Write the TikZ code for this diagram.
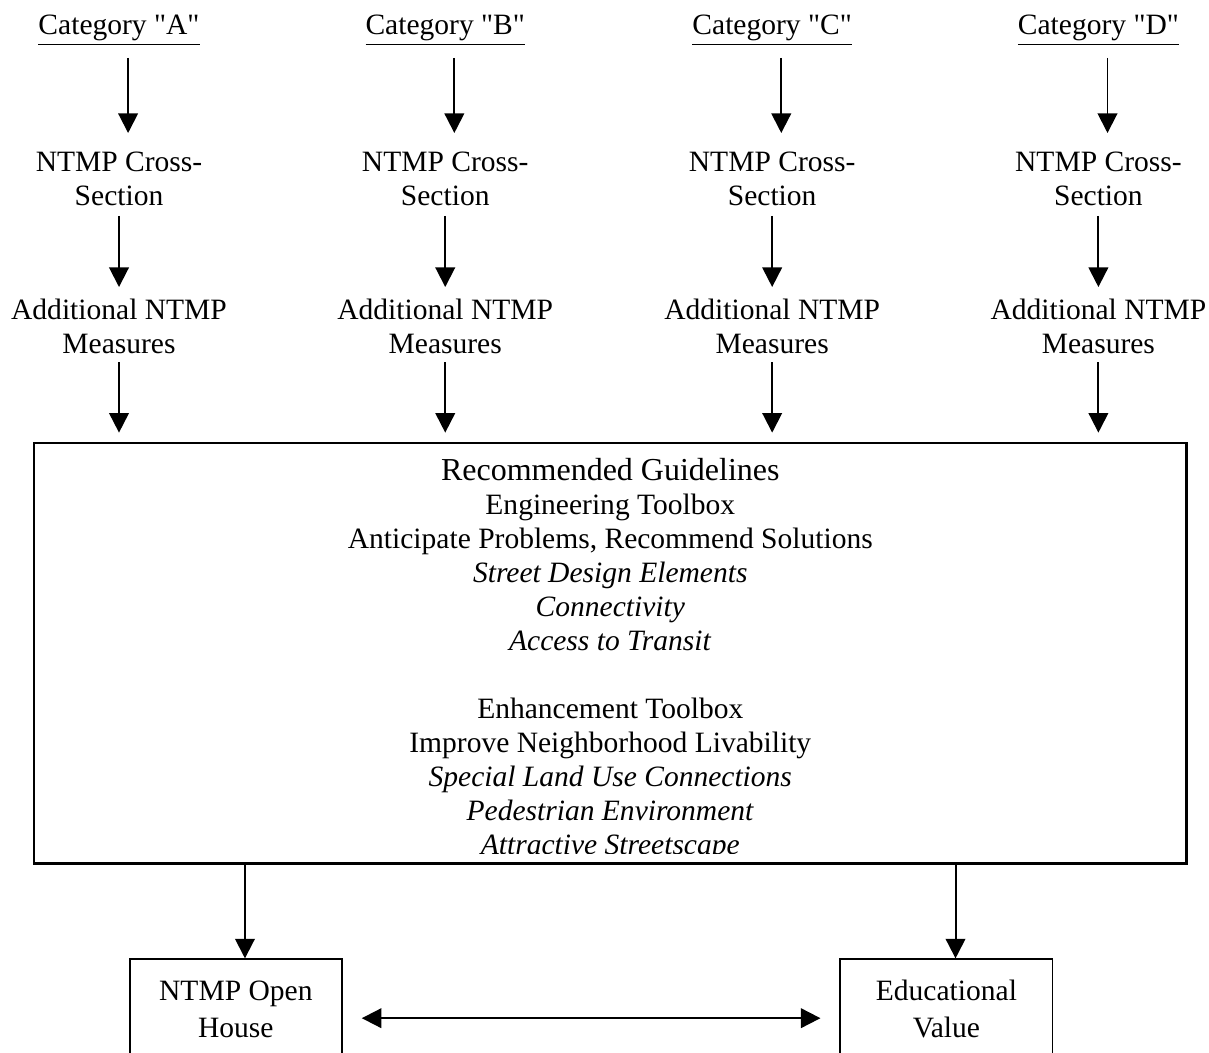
\documentclass[tikz,border=0pt]{standalone}
\usepackage{fontspec}
\setmainfont{Liberation Serif}[Ligatures=TeXOff]
\usetikzlibrary{arrows.meta}

\tikzset{
  fleche/.style={-{Triangle[width=0.28cm,length=0.28cm]}, line width=0.8pt},
  fleches/.style={{Triangle[width=0.28cm,length=0.28cm]}-{Triangle[width=0.28cm,length=0.28cm]}, line width=0.8pt},
  texte/.style={align=center, inner sep=0pt, font=\fontsize{12}{13.8}\selectfont},
  cadre/.style={draw, line width=1pt, inner sep=0pt},
  boite/.style={draw, line width=0.8pt, align=center, font=\fontsize{12}{15}\selectfont,
    minimum width=3.03cm, minimum height=1.42cm, anchor=north west},
}

\begin{document}
\begin{tikzpicture}
\useasboundingbox (0,0) rectangle (17.27,-15.04);

% Les quatre colonnes
\foreach \x/\c in {1.70/A, 6.36/B, 11.03/C, 15.69/D} {
  \node[texte, anchor=base] (cat\c) at (\x,-0.49) {\underline{Category "\c"}};
  \node[texte, anchor=north] (cross\c) at (\x,-2.17) {NTMP Cross-\\Section};
  \node[texte, anchor=north] (add\c) at (\x,-4.27) {Additional NTMP\\Measures};
}

% Cadre des recommandations
\node[cadre, anchor=north west, minimum width=16.46cm, minimum height=6.01cm] (guide) at (0.47,-6.31) {};
\begin{scope}
\clip (guide.north west) rectangle ([yshift=0.17cm]guide.south east);
\node[texte, anchor=north] (guidetext) at ([yshift=-0.23cm]guide.north) {
  {\fontsize{13}{15}\selectfont Recommended Guidelines}\\
  Engineering Toolbox\\
  Anticipate Problems, Recommend Solutions\\
  \textit{Street Design Elements}\\
  \textit{Connectivity}\\
  \textit{Access to Transit}\\[13.8pt]
  Enhancement Toolbox\\
  Improve Neighborhood Livability\\
  \textit{Special Land Use Connections}\\
  \textit{Pedestrian Environment}\\
  \textit{Attractive Streetscape}
};
\end{scope}

% Boites du bas
\node[boite] (house) at (1.84,-13.69) {NTMP Open\\House};
\node[boite] (edu) at (11.99,-13.69) {Educational\\Value};

% Fleches
\foreach \c in {A,B,C,D} {
  \draw[fleche, shorten <=0.17cm, shorten >=0.27cm] ([xshift=0.13cm]cat\c.south) -- ([xshift=0.13cm]cross\c.north);
  \draw[fleche, shorten <=0.13cm, shorten >=0.17cm] (cross\c.south) -- (add\c.north);
  \draw[fleche, shorten <=0.11cm, shorten >=0.13cm] (add\c.south) -- (add\c.south |- guide.north);
}
\draw[fleche] ([xshift=0.13cm]house.north |- guide.south) -- ([xshift=0.13cm]house.north);
\draw[fleche] ([xshift=0.13cm]edu.north |- guide.south) -- ([xshift=0.13cm]edu.north);
\draw[fleches, shorten <=0.27cm, shorten >=0.27cm] ([yshift=-0.13cm]house.east) -- ([yshift=-0.13cm]edu.west);
\end{tikzpicture}
\end{document}
